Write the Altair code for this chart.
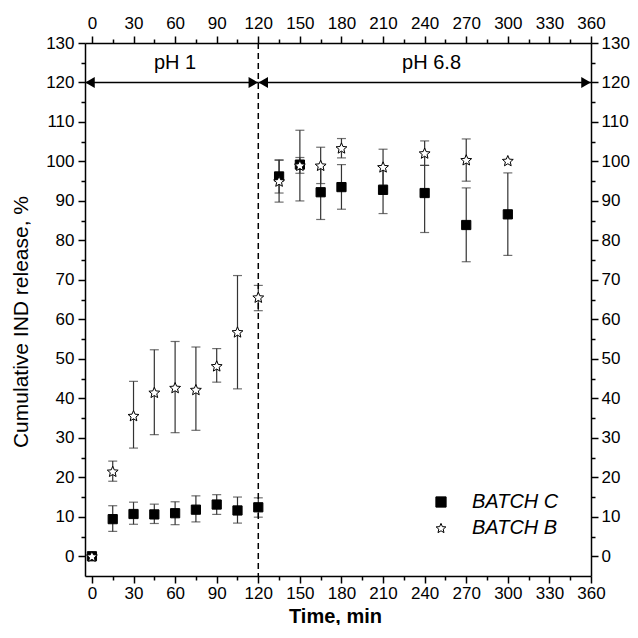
import math
import altair as alt
import pandas as pd

# ---------------- data ----------------
times = [0, 15, 30, 45, 60, 75, 90, 105, 120, 135, 150, 165, 180, 210, 240, 270, 300]

c_mean = [0, 9.4, 10.7, 10.6, 10.9, 11.8, 13.1, 11.6, 12.4, 96.2, 99.2, 92.2, 93.5, 92.8, 92.0, 83.9, 86.6]
c_low = [None, 6.3, 8.1, 8.3, 8.0, 8.7, 10.6, 8.4, 9.9, 92.0, 90.0, 85.3, 87.9, 86.8, 82.0, 74.6, 76.2]
c_high = [None, 12.8, 13.7, 13.2, 13.8, 15.3, 15.6, 15.0, 14.8, 100.4, 107.9, 99.0, 99.2, 98.8, 99.0, 93.3, 97.1]

b_mean = [0, 21.5, 35.6, 41.5, 42.7, 42.2, 48.2, 56.8, 65.6, 95.0, 99.0, 99.0, 103.4, 98.6, 102.1, 100.4, 100.2]
b_low = [None, 19.0, 27.4, 30.8, 31.3, 31.9, 44.1, 42.4, 62.2, 89.7, 97.0, 94.4, 100.9, 94.0, 99.0, 95.0, None]
b_high = [None, 24.1, 44.3, 52.3, 54.4, 53.0, 52.6, 71.1, 68.6, 100.3, 101.0, 103.6, 105.8, 103.1, 105.2, 105.7, None]

series_names = ["BATCH C", "BATCH B"]

phase_names = ["pH 1", "pH 6.8"]
phase_start = [-5, 120]
phase_end = [120, 360]
phase_label_x = [60, 245]
phase_arrow_y = 120
phase_label_y = 125
switch_time = 120

x_ticks = list(range(0, 361, 15))
y_ticks = list(range(0, 131, 5))

# ---------------- tables ----------------
rows = []
for name, m, lo, hi in [(series_names[0], c_mean, c_low, c_high),
                        (series_names[1], b_mean, b_low, b_high)]:
    for t, v, l, h in zip(times, m, lo, hi):
        rows.append({"t": t, "series": name, "mean": v, "lo": l, "hi": h})
df = pd.DataFrame(rows)
err = df.dropna(subset=["lo", "hi"])

phases = pd.DataFrame({"name": phase_names, "start": phase_start, "end": phase_end,
                       "lx": phase_label_x, "ay": [phase_arrow_y] * 2, "ly": [phase_label_y] * 2})
heads_left = pd.DataFrame({"x": phase_start, "y": [phase_arrow_y] * 2})
heads_right = pd.DataFrame({"x": phase_end, "y": [phase_arrow_y] * 2})
switch = pd.DataFrame({"x": [switch_time]})

# star symbol path
pts = []
for k in range(10):
    a = math.radians(-90 + 36 * k)
    r = 1.0 if k % 2 == 0 else 0.45
    pts.append(f"{r * math.cos(a):.3f},{r * math.sin(a) + 0.095:.3f}")
star_path = "M" + "L".join(pts) + "Z"

FONT = "Liberation Sans"
W, H = 506, 533
xs = alt.Scale(domain=[-5, 360], nice=False, zero=False)
ys = alt.Scale(domain=[-5, 130], nice=False, zero=False)

major_x = "datum.value % 30 === 0"
major_y = "datum.value % 10 === 0"


def axis(orient, values, test, title=None, **kw):
    return alt.Axis(orient=orient, values=values, title=title,
                    labelExpr=f"{test} ? datum.label : ''", format="d",
                    tickSize={"condition": {"test": test, "value": 7}, "value": 4},
                    labelOverlap=False, labelFlush=False, grid=False,
                    domainColor="black", domainWidth=1.5, tickColor="black", tickWidth=1.5,
                    labelFont=FONT, labelFontSize=17, labelColor="black",
                    titleFont=FONT, titleColor="black", **kw)


ERR = "#333333"
base_err = alt.Chart(err)

err_rule = base_err.mark_rule(color=ERR, strokeWidth=1.2).encode(
    x=alt.X("t:Q", scale=xs, axis=axis("bottom", x_ticks, major_x, "Time, min",
                                       titleFontWeight="bold", titleFontSize=20, labelPadding=2,
                                       titleX=W / 2 - 3, titleY=46, titleAlign="center",
                                       titleBaseline="alphabetic")),
    y=alt.Y("lo:Q", scale=ys, axis=axis("left", y_ticks, major_y, "Cumulative IND release, %",
                                        titleFontWeight="normal", titleFontSize=21, labelPadding=4,
                                        titleAngle=270, titleX=-64, titleY=H / 2 + 12,
                                        titleAlign="center", titleBaseline="middle")),
    y2="hi:Q",
)

err_caps = base_err.transform_fold(["lo", "hi"], as_=["end", "val"]).mark_tick(
    orient="horizontal", color=ERR, size=9, thickness=1.2
).encode(
    x=alt.X("t:Q", scale=xs, axis=None),
    y=alt.Y("val:Q", scale=ys, axis=None),
)

switch_line = alt.Chart(switch).mark_rule(color="black", strokeWidth=1.5, strokeDash=[6, 4]).encode(
    x=alt.X("x:Q", scale=xs, axis=None)
)

arrows = alt.Chart(phases).mark_rule(color="black", strokeWidth=1.5).encode(
    x=alt.X("start:Q", scale=xs, axis=axis("top", x_ticks, major_x, labelPadding=4)),
    x2="end:Q",
    y=alt.Y("ay:Q", scale=ys, axis=axis("right", y_ticks, major_y, labelPadding=3)),
)

head_l = alt.Chart(heads_left).mark_point(shape="triangle-left", filled=True, color="black",
                                          size=120, opacity=1, xOffset=5).encode(
    x=alt.X("x:Q", scale=xs, axis=None), y=alt.Y("y:Q", scale=ys, axis=None))
head_r = alt.Chart(heads_right).mark_point(shape="triangle-right", filled=True, color="black",
                                           size=120, opacity=1, xOffset=-5).encode(
    x=alt.X("x:Q", scale=xs, axis=None), y=alt.Y("y:Q", scale=ys, axis=None))

phase_text = alt.Chart(phases).mark_text(font=FONT, fontSize=20, color="black",
                                         baseline="middle", align="center").encode(
    x=alt.X("lx:Q", scale=xs, axis=None), y=alt.Y("ly:Q", scale=ys, axis=None), text="name:N")

shape_scale = alt.Scale(domain=series_names, range=["square", star_path])
fill_scale = alt.Scale(domain=series_names, range=["black", "white"])
stroke_scale = alt.Scale(domain=series_names, range=["black", "black"])
leg = alt.Legend(title=None, orient="none", legendX=346, legendY=449, padding=0,
                 labelFont=FONT, labelFontSize=20, labelFontStyle="italic", labelColor="black",
                 labelOffset=21, rowPadding=6, symbolSize=105, symbolStrokeWidth=1)


def points(name, size):
    return alt.Chart(df[df.series == name]).mark_point(
        strokeWidth=1, size=size, opacity=1
    ).encode(
        x=alt.X("t:Q", scale=xs, axis=None),
        y=alt.Y("mean:Q", scale=ys, axis=None),
        shape=alt.Shape("series:N", scale=shape_scale, legend=leg),
        fill=alt.Fill("series:N", scale=fill_scale, legend=leg),
        stroke=alt.Stroke("series:N", scale=stroke_scale, legend=leg),
    )


chart = alt.layer(
    err_rule, err_caps, switch_line, arrows, head_l, head_r, phase_text,
    points(series_names[0], 85), points(series_names[1], 130),
).resolve_axis(x="independent", y="independent").properties(
    width=W, height=H,
    autosize=alt.AutoSizeParams(type="none"),
    padding={"left": 77, "top": 35, "right": 39, "bottom": 49},
).configure_view(stroke="black", strokeWidth=1.5).configure(background="white")

chart.save("out.html", embed_options={"renderer": "svg", "actions": False})
